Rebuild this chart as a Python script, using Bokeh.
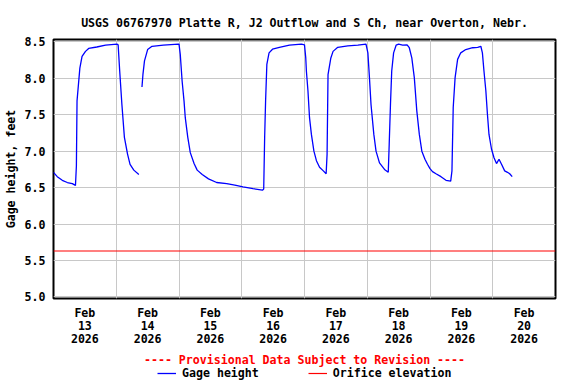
import math
from bokeh.plotting import figure
from bokeh.layouts import column
from bokeh.models import FixedTicker, PrintfTickFormatter, Legend, LegendItem, Range1d
from bokeh.embed import file_html
from bokeh.resources import INLINE

NaN = float("nan")

title_text = "USGS 06767970 Platte R, J2 Outflow and S Ch, near Overton, Nebr."
provisional_text = "---- Provisional Data Subject to Revision ----"
y_label = "Gage height, feet"
series_names = ["Gage height", "Orifice elevation"]

# x in days since Feb 13 2026 00:00
day_label_pos = [0.5, 1.5, 2.5, 3.5, 4.5, 5.5, 6.5, 7.5]
day_labels = ["Feb\n13\n2026", "Feb\n14\n2026", "Feb\n15\n2026", "Feb\n16\n2026",
              "Feb\n17\n2026", "Feb\n18\n2026", "Feb\n19\n2026", "Feb\n20\n2026"]
midnights = [1, 2, 3, 4, 5, 6, 7]
y_ticks = [5.0, 5.5, 6.0, 6.5, 7.0, 7.5, 8.0, 8.5]

gage_day = [
    0.00, 0.06, 0.14, 0.22, 0.30, 0.35, 0.365, 0.375, 0.42, 0.455, 0.51, 0.56, 0.69, 0.83, 1.01,
    1.03, 1.055, 1.09, 1.13, 1.18, 1.22, 1.28, 1.36,
    1.385,
    1.41, 1.425, 1.45, 1.50, 1.57, 1.75, 1.99,
    2.00, 2.02, 2.05, 2.08, 2.10, 2.14, 2.18, 2.24, 2.29, 2.37, 2.47, 2.60, 2.76, 2.89, 3.02,
    3.18, 3.33, 3.35,
    3.365, 3.38, 3.40, 3.435, 3.49, 3.60, 3.76, 3.95, 4.00,
    4.02, 4.03, 4.055, 4.08, 4.11, 4.15, 4.19, 4.24, 4.30, 4.345,
    4.36, 4.375, 4.42, 4.455, 4.53, 4.69, 4.85, 4.98,
    5.01, 5.035, 5.06, 5.105, 5.14, 5.195, 5.275, 5.335,
    5.35, 5.37, 5.39, 5.42, 5.46, 5.50, 5.565, 5.635,
    5.67, 5.71, 5.75, 5.79, 5.83, 5.87, 5.92, 5.96, 6.00, 6.04, 6.095, 6.175, 6.255, 6.33,
    6.35, 6.37, 6.40, 6.44, 6.49, 6.57, 6.68, 6.76, 6.81,
    6.835, 6.86, 6.89, 6.915, 6.94, 6.98, 7.02, 7.06, 7.10, 7.14, 7.19, 7.235, 7.27, 7.31,
]
gage_ft = [
    6.71, 6.65, 6.60, 6.57, 6.555, 6.53, 6.80, 7.69, 8.14, 8.30, 8.37, 8.41, 8.43, 8.455, 8.47,
    8.46, 8.10, 7.64, 7.19, 6.96, 6.82, 6.74, 6.68,
    NaN,
    7.88, 8.05, 8.24, 8.395, 8.44, 8.455, 8.47,
    8.47, 8.33, 7.96, 7.69, 7.46, 7.19, 6.98, 6.83, 6.74, 6.68, 6.62, 6.57, 6.555, 6.535, 6.51,
    6.485, 6.465, 6.48,
    7.19, 7.69, 8.19, 8.35, 8.40, 8.425, 8.455, 8.47, 8.46,
    8.28, 8.10, 7.83, 7.46, 7.23, 7.00, 6.87, 6.78, 6.73, 6.69,
    6.96, 8.05, 8.28, 8.37, 8.425, 8.445, 8.455, 8.47,
    8.35, 8.01, 7.64, 7.23, 7.00, 6.84, 6.75, 6.71,
    7.10, 7.64, 8.10, 8.35, 8.455, 8.47, 8.455, 8.46,
    8.42, 8.28, 8.01, 7.55, 7.23, 7.00, 6.89, 6.82, 6.76, 6.72, 6.69, 6.65, 6.60, 6.59,
    6.73, 7.60, 8.01, 8.26, 8.35, 8.395, 8.42, 8.425, 8.44,
    8.35, 8.10, 7.83, 7.51, 7.23, 7.03, 6.91, 6.83, 6.89, 6.82, 6.73, 6.71, 6.69, 6.65,
]

orifice_day = [0.0, 8.0]
orifice_ft = [5.63, 5.63]

FONT = "DejaVu Sans Mono"
FS = "11.6px"
BLUE = "#0000ff"
RED = "#ff0000"

p = figure(width=560, height=349, output_backend="svg", toolbar_location=None,
           x_range=Range1d(0, 8), y_range=Range1d(4.978, 8.533),
           min_border_left=51, min_border_right=5, min_border_top=39, min_border_bottom=50,
           background_fill_color="white", border_fill_color="white")

p.title.text = title_text
p.title.align = "center"
p.title.text_font = FONT
p.title.text_font_size = FS
p.title.text_font_style = "bold"
p.title.text_color = "black"
p.title.standoff = 19

p.outline_line_color = "black"
p.outline_line_width = 2

# grids
p.xgrid.ticker = FixedTicker(ticks=midnights)
p.ygrid.ticker = FixedTicker(ticks=y_ticks)
for g in (p.xgrid, p.ygrid):
    g.grid_line_color = "#c8c8c8"
    g.grid_line_width = 1

# axes
xa = p.xaxis[0]
xa.ticker = FixedTicker(ticks=day_label_pos)
xa.major_label_overrides = {pos: lab for pos, lab in zip(day_label_pos, day_labels)}
ya = p.yaxis[0]
ya.ticker = FixedTicker(ticks=y_ticks)
ya.formatter = PrintfTickFormatter(format="%.1f")
ya.axis_label = y_label
for ax in (xa, ya):
    ax.axis_line_color = None
    ax.major_tick_line_color = None
    ax.minor_tick_line_color = None
    ax.major_tick_out = 0
    ax.major_tick_in = 0
    ax.minor_tick_out = 0
    ax.minor_tick_in = 0
    ax.major_label_text_font = FONT
    ax.major_label_text_font_size = FS
    ax.major_label_text_font_style = "bold"
    ax.major_label_text_color = "black"
    ax.axis_label_text_font = FONT
    ax.axis_label_text_font_size = FS
    ax.axis_label_text_font_style = "bold"
    ax.axis_label_text_color = "black"
xa.major_label_standoff = 7
xa.major_label_text_line_height = 0.96
ya.major_label_standoff = 8
ya.axis_label_standoff = 4

p.line(gage_day, gage_ft, line_color=BLUE, line_width=1.3)
p.line(orifice_day, orifice_ft, line_color=RED, line_width=1.2)

# strip underneath: provisional notice + legend
q = figure(width=560, height=35, output_backend="svg", toolbar_location=None,
           x_range=Range1d(0, 1), y_range=Range1d(0, 1),
           x_axis_location=None, y_axis_location=None, title=provisional_text,
           min_border_left=51, min_border_right=5, min_border_top=17, min_border_bottom=4,
           background_fill_color="white", border_fill_color="white")
q.title.align = "center"
q.title.text_color = RED
q.title.text_font = FONT
q.title.text_font_size = FS
q.title.text_font_style = "bold"
q.title.standoff = 0
q.grid.visible = False
q.outline_line_color = None
# legend-only renderers (no visible data)
lg_gage = q.line([NaN, NaN], [NaN, NaN], line_color=BLUE, line_width=1.3)
lg_orif = q.line([NaN, NaN], [NaN, NaN], line_color=RED, line_width=1.2)
legend = Legend(items=[LegendItem(label=series_names[0], renderers=[lg_gage]),
                       LegendItem(label=series_names[1], renderers=[lg_orif])],
                orientation="horizontal", location=(104, 0),
                glyph_width=19, glyph_height=12, label_standoff=6, spacing=49,
                padding=0, margin=0, border_line_color=None, background_fill_alpha=0,
                label_text_font=FONT, label_text_font_size=FS, label_text_font_style="bold",
                label_text_color="black", label_height=12)
q.add_layout(legend)

layout = column(p, q, spacing=0)
open("out.html", "w").write(file_html(layout, INLINE))
